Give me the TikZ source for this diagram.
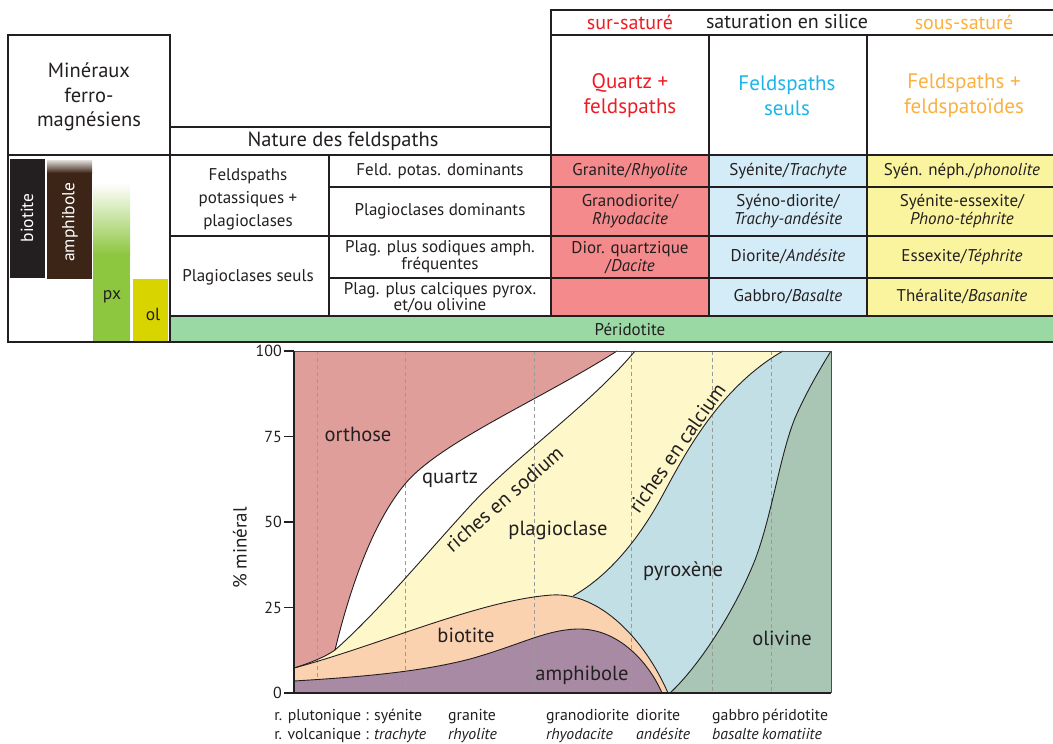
\documentclass[tikz,border=0pt]{standalone}
\usepackage{fontspec}
\setmainfont{PT Sans}
\definecolor{tl}{HTML}{231F20}
\definecolor{redc}{HTML}{F58A8C}
\definecolor{bluec}{HTML}{D4ECF7}
\definecolor{yelc}{HTML}{FBF49E}
\definecolor{greenc}{HTML}{9AD9A4}
\definecolor{redt}{HTML}{ED1C24}
\definecolor{bluet}{HTML}{1CB5EA}
\definecolor{orat}{HTML}{FBB040}
\definecolor{orth}{HTML}{E09E9B}
\definecolor{plag}{HTML}{FDF7C9}
\definecolor{biot}{HTML}{FBD2B0}
\definecolor{amph}{HTML}{A88AA4}
\definecolor{pyx}{HTML}{C2DFE5}
\definecolor{oliv}{HTML}{A9C6B5}
\definecolor{barbio}{HTML}{231F20}
\definecolor{baramph}{HTML}{3C2416}
\definecolor{barpx}{HTML}{8DC63F}
\definecolor{barol}{HTML}{D8D400}
\definecolor{dashc}{HTML}{9A9A9A}
\begin{document}
\begin{tikzpicture}[x=1pt,y=-1pt,
  tline/.style={line width=1.5pt,draw=tl,line cap=rect},
  txt/.style={inner sep=0pt,align=center,text=tl},
  fcell/.style={txt,font=\fontsize{17}{18.5}\selectfont},
  fhead/.style={txt,font=\fontsize{21}{25}\selectfont},
  fbar/.style={inner sep=0pt,font=\fontsize{17.5}{20}\selectfont},
  flab/.style={txt,font=\fontsize{20.5}{22}\selectfont},
  ftick/.style={txt,font=\fontsize{16}{18}\selectfont,anchor=east},
  fbot/.style={txt,font=\fontsize{15.8}{17}\selectfont,anchor=base west},
  bnd/.style={line width=0.9pt,draw=tl},
  dsh/.style={line width=0.8pt,draw=dashc,dash pattern=on 4pt off 3pt}
]
\useasboundingbox (0,0) rectangle (1053,744);

% ---------- table fills ----------
\fill[redc] (551,155) rectangle (709,316);
\fill[bluec] (709,155) rectangle (867,316);
\fill[yelc] (867,155) rectangle (1053,316);
\fill[greenc] (170,316) rectangle (1053,342);

% ---------- bars ----------
\fill[barbio] (10,159) rectangle (45,278);
\shade[top color=baramph!15, bottom color=baramph] (47,160) rectangle (92,173);
\fill[baramph] (47,173) rectangle (92,279);
\shade[top color=white, bottom color=barpx] (93,183) rectangle (130,255);
\fill[barpx] (93,255) rectangle (130,341);
\fill[barol] (133,279) rectangle (168,341);
\node[fbar,text=white,rotate=90] (bbio) at (27,218) {biotite};
\node[fbar,text=white,rotate=90] (bamph) at (70,222) {amphibole};
\node[fbar,text=tl] (bpx) at (112,297) {px};
\node[fbar,text=tl] (bol) at (153,314) {ol};

% ---------- table lines ----------
\draw[tline] (8,35) -- (170,35);
\draw[tline] (551,10) -- (1053,10);
\draw[tline] (551,35) -- (1053,35);
\draw[tline] (8,35) -- (8,342);
\draw[tline] (170,35) -- (170,342);
\draw[tline] (551,10) -- (551,316);
\draw[tline] (709,35) -- (709,316);
\draw[tline] (867,35) -- (867,316);
\draw[tline] (170,127) -- (551,127);
\draw[tline] (8,155) -- (1053,155);
\draw[tline] (329,155) -- (329,316);
\draw[tline] (329,187) -- (1053,187);
\draw[tline] (170,236) -- (1053,236);
\draw[tline] (329,278) -- (1053,278);
\draw[tline] (170,316) -- (1053,316);
\draw[tline] (8,342) -- (1053,342);

% ---------- table texts ----------
\node[txt,font=\fontsize{20}{22}\selectfont,text=redt] (hsur) at (630,22) {sur-saturé};
\node[txt,font=\fontsize{20}{22}\selectfont] (hsat) at (787,22) {saturation en silice};
\node[txt,font=\fontsize{20}{22}\selectfont,text=orat] (hsous) at (964,22) {sous-saturé};
\node[fhead,text=redt] (hq) at (630,96) {Quartz +\\feldspaths};
\node[fhead,text=bluet] (hf) at (787,96) {Feldspaths\\seuls};
\node[fhead,text=orat] (hff) at (964,96) {Feldspaths +\\feldspatoïdes};
\node[txt,font=\fontsize{20.5}{24.5}\selectfont] (hmin) at (89,97) {Minéraux\\ferro-\\magnésiens};
\node[txt,font=\fontsize{20.5}{22}\selectfont] (hnat) at (343,141) {Nature des feldspaths};

\node[fcell,font=\fontsize{17}{23}\selectfont] (lfk) at (248,199) {Feldspaths\\potassiques +\\plagioclases};
\node[fcell] (lps) at (248,277) {Plagioclases seuls};
\node[fcell] (m1) at (440,171) {Feld. potas. dominants};
\node[fcell] (m2) at (440,211) {Plagioclases dominants};
\node[fcell,font=\fontsize{17}{17}\selectfont] (m3) at (440,257) {Plag. plus sodiques amph.\\fréquentes};
\node[fcell,font=\fontsize{17}{16}\selectfont] (m4) at (440,297.5) {Plag. plus calciques pyrox.\\et/ou olivine};

\node[fcell] (r1) at (630,171.5) {Granite/\textit{Rhyolite}};
\node[fcell] (r2) at (630,211) {Granodiorite/\\\textit{Rhyodacite}};
\node[fcell] (r3) at (630,257.5) {Dior. quartzique\\/\textit{Dacite}};
\node[fcell] (b1) at (788,171.5) {Syénite/\textit{Trachyte}};
\node[fcell] (b2) at (788,211) {Syéno-diorite/\\\textit{Trachy-andésite}};
\node[fcell] (b3) at (788,257) {Diorite/\textit{Andésite}};
\node[fcell] (b4) at (788,297) {Gabbro/\textit{Basalte}};
\node[fcell] (y1) at (962,171.5) {Syén. néph./\textit{phonolite}};
\node[fcell] (y2) at (962,211) {Syénite-essexite/\\\textit{Phono-téphrite}};
\node[fcell] (y3) at (962,257) {Essexite/\textit{Téphrite}};
\node[fcell] (y4) at (962,297) {Théralite/\textit{Basanite}};
\node[fcell] (per) at (630,329) {Péridotite};

% ---------- chart fills ----------
\fill[plag] (294,351) rectangle (831,693);
\fill[white] (335,650) .. controls (378,612) and (425,555) .. (470,506) .. controls (515,457) and (590,405) .. (635,351) -- (294,351) -- (294,668) -- cycle;
\fill[orth] (294,351) -- (294,668) .. controls (310,663) and (325,657) .. (335,650) .. controls (352,580) and (375,520) .. (405,484) .. controls (440,442) and (540,400) .. (617,351) -- cycle;
\fill[pyx] (573,596) .. controls (605,578) and (635,545) .. (660,500) .. controls (680,464) and (715,390) .. (783,351) -- (831,351) -- (831,693) -- (573,693) -- cycle;
\fill[oliv] (670,693) .. controls (700,665) and (735,610) .. (755,560) .. controls (772,515) and (780,455) .. (795,418) .. controls (805,395) and (818,372) .. (831,351) -- (831,693) -- cycle;
\fill[biot] (294,668) .. controls (380,645) and (480,600) .. (552,595) .. controls (600,592) and (645,640) .. (668,693) -- (294,693) -- cycle;
\fill[amph] (294,681) .. controls (360,677) and (420,672) .. (470,659) .. controls (520,645) and (545,630) .. (577,629) .. controls (620,628) and (650,665) .. (662,693) -- (294,693) -- cycle;

% dashed guides
\foreach \xx in {317,405,534,631,712,771} \draw[dsh] (\xx,351) -- (\xx,693);

% boundaries
\draw[bnd] (294,668) .. controls (310,663) and (325,657) .. (335,650);
\draw[bnd] (335,650) .. controls (352,580) and (375,520) .. (405,484) .. controls (440,442) and (540,400) .. (617,351);
\draw[bnd] (335,650) .. controls (378,612) and (425,555) .. (470,506) .. controls (515,457) and (590,405) .. (635,351);
\draw[bnd] (573,596) .. controls (605,578) and (635,545) .. (660,500) .. controls (680,464) and (715,390) .. (783,351);
\draw[bnd] (670,693) .. controls (700,665) and (735,610) .. (755,560) .. controls (772,515) and (780,455) .. (795,418) .. controls (805,395) and (818,372) .. (831,351);
\draw[bnd] (294,668) .. controls (380,645) and (480,600) .. (552,595) .. controls (600,592) and (645,640) .. (668,693);
\draw[bnd] (294,681) .. controls (360,677) and (420,672) .. (470,659) .. controls (520,645) and (545,630) .. (577,629) .. controls (620,628) and (650,665) .. (662,693);

% axes
\draw[line width=0.8pt,draw=tl!80] (294,351) -- (831,351) -- (831,693);
\draw[line width=1.2pt,draw=tl] (294,351) -- (294,693) -- (831,693);
\foreach \yy/\lab in {351/100,436.5/75,522/50,607.5/25,693/0} {
  \draw[line width=1.2pt,draw=tl] (284,\yy) -- (294,\yy);
  \node[ftick] at (282,\yy) {\lab};
}

% chart labels
\node[flab] (lorth) at (358,434) {orthose};
\node[flab] (lqz) at (450,479) {quartz};
\node[flab,rotate=41] (lsod) at (504,499) {riches en sodium};
\node[flab] (lplag) at (558,530) {plagioclase};
\node[flab,rotate=55] (lcal) at (677,448) {riches en calcium};
\node[flab] (lpyx) at (683,571) {pyroxène};
\node[flab] (lbio) at (466,635) {biotite};
\node[flab] (lamph) at (582,675) {amphibole};
\node[flab] (loli) at (782,638) {olivine};
\node[txt,font=\fontsize{19}{20}\selectfont,rotate=90] (lpct) at (240,548) {\% minéral};

% bottom labels
\node[fbot,anchor=base east] (p1) at (369,720) {r. plutonique :};
\node[fbot] (p1b) at (374,720) {syénite};
\node[fbot,anchor=base east] (v1) at (369,739) {r. volcanique :};
\node[fbot] (v1b) at (374,739) {\textit{trachyte}};
\node[fbot] (p2) at (448,720) {granite};
\node[fbot] (v2) at (448,739) {\textit{rhyolite}};
\node[fbot] (p3) at (546,720) {granodiorite};
\node[fbot] (v3) at (546,739) {\textit{rhyodacite}};
\node[fbot] (p4) at (636,720) {diorite};
\node[fbot] (v4) at (636,739) {\textit{andésite}};
\node[fbot] (p5) at (712,720) {gabbro};
\node[fbot] (v5) at (712,739) {\textit{basalte}};
\node[fbot] (p6) at (762,720) {péridotite};
\node[fbot] (v6) at (762,739) {\textit{komatiite}};
\end{tikzpicture}
\end{document}
